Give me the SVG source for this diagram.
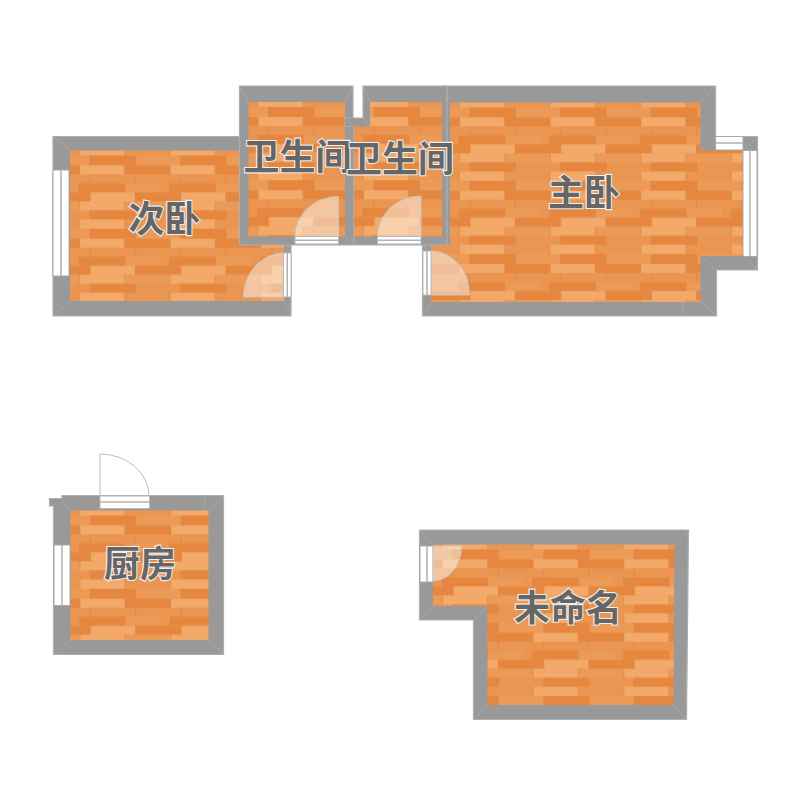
<svg xmlns="http://www.w3.org/2000/svg" width="800" height="800" viewBox="0 0 800 800">
<style>
.wall{fill:#999;stroke:#aeaeae;stroke-width:1.2}
.seam{stroke:#aeaeae;stroke-width:.7;fill:none}
.win{fill:#fff;stroke:#a8a8a8;stroke-width:1}
.bar{stroke:#b4b4b4;stroke-width:1.6;fill:none}
.swing{fill:#fff;fill-opacity:.45;stroke:#c8c8c8;stroke-width:1}
.open{fill:#fff;stroke:#b8b8b8;stroke-width:1}
.L{fill:#f2a969}.M{fill:#ec9a58}.D{fill:#e5873f}.B{fill:#eb9552}
text{font-family:"Noto Sans CJK SC","Noto Sans",sans-serif;font-size:36px;font-weight:700;fill:#666;stroke:#f0f0f0;stroke-width:2.2;paint-order:stroke;text-anchor:middle}
</style>
<defs>
<pattern id="f" patternUnits="userSpaceOnUse" width="90.67" height="73.3">
<rect width="90.67" height="73.3" class="B"/>
<rect x="9.33" y="0" width="45.33" height="5" class="L"/>
<rect x="0" y="5" width="90.67" height="10" class="M"/><rect x="20" y="5" width="45.33" height="10" class="D"/>
<rect x="9.33" y="15" width="45.33" height="9" class="L"/><rect x="54.67" y="15" width="36" height="9" class="D"/><rect x="0" y="15" width="9.33" height="9" class="D"/>
<rect x="20" y="24" width="45.33" height="9" class="B"/>
<rect x="9.33" y="33" width="45.33" height="9" class="D"/><rect x="54.67" y="33" width="36" height="9" class="M"/>
<rect x="20" y="42" width="45.33" height="9" class="L"/><rect x="65.33" y="42" width="25.34" height="9" class="D"/><rect x="0" y="42" width="20" height="9" class="D"/>
<rect x="9.33" y="51" width="45.33" height="9" class="L"/><rect x="54.67" y="51" width="36" height="9" class="M"/><rect x="0" y="51" width="9.33" height="9" class="M"/>
<rect x="20" y="60" width="45.33" height="9" class="D"/>
<rect x="9.33" y="69" width="45.33" height="4.3" class="L"/>
<path d="M9.33 0V5M54.67 0V5M20 5V15M65.33 5V15M9.33 15V24M54.67 15V24M20 24V33M65.33 24V33M9.33 33V42M54.67 33V42M20 42V51M65.33 42V51M9.33 51V60M54.67 51V60M20 60V69M65.33 60V69M9.33 69V73.3M54.67 69V73.3" stroke="#d87a35" stroke-width=".5" fill="none"/>
</pattern>
<pattern id="f1" href="#f" x="70" y="150.5"/>
<pattern id="f2" href="#f" x="248.5" y="102"/>
<pattern id="f3" href="#f" x="354" y="102"/>
<pattern id="f4" href="#f" x="450" y="102.5"/>
<pattern id="f5" href="#f" x="70.5" y="510.5"/>
<pattern id="f6" href="#f" x="433" y="544.5"/>
</defs>

<g id="room-master">
<path class="wall" d="M442 86H715.500V136.500H757.500V270H716.500V316H422.500V245H442Z"/>
<path fill="url(#f4)" d="M450 102.500H700.500V150.500H743V256H700.500V302H431V245H450Z"/>
<path class="seam" d="M715.500 86L700.500 102.500M715.500 136.500L700.500 150.500M757.500 136.500L743 150.500M757.500 270L743 256M700.500 256L716.500 270M716.500 316L700.500 302M422.500 316L431 302M682.500 302V316M447 86V102M422.500 245L431 253"/>
<rect class="win" x="715.500" y="136.500" width="27.500" height="13.500"/><path class="bar" d="M715.500 143H743"/>
<rect class="win" x="743" y="150.500" width="14" height="106"/><path class="bar" d="M750 150.500V256.500"/>
<path class="swing" d="M431 251A38.500 44 0 0 1 469.500 295H431Z"/>
<rect class="open" x="423" y="251" width="8" height="44"/><path class="bar" d="M427 251V295"/>
<text x="584" y="206">主卧</text>
</g>

<g id="room-cibedroom">
<path class="wall" d="M53 136.500H239.500V245H291V316H53Z"/>
<path fill="url(#f1)" d="M70 150.500H239.500V245H284V301H70Z"/>
<path class="seam" d="M53 136.500L70 150.500M53 316L70 301M291 316L284 301M291 245L284 253"/>
<rect class="win" x="53" y="170" width="16" height="106"/><path class="bar" d="M61 170V276"/>
<path class="swing" d="M284 253A40.500 44 0 0 0 243.500 297H284Z"/>
<rect class="open" x="283.500" y="253" width="7.500" height="44"/><path class="bar" d="M287.200 253V297"/>
<text x="164.500" y="231.500">次卧</text>
</g>

<g id="room-bath-1">
<path class="wall" d="M239.500 86H353V118H354V245H239.500Z"/>
<rect fill="url(#f2)" x="248.500" y="102" width="96.500" height="134.500"/>
<path class="seam" d="M239.500 86L248.500 102M353 86L345 102M239.500 245L248.500 236.500M354 245L345 236.500"/>
<path class="swing" d="M338.500 196.500A43.500 40 0 0 0 295 236.500H338.500Z"/>
<rect class="open" x="295" y="236.500" width="43.500" height="7.500"/><path class="bar" d="M295 240.200H338.500"/>
<text x="297.500" y="170">卫生间</text>
</g>

<g id="room-bath-2">
<path class="wall" d="M345 118H363V86H447V245H354V126.500H345Z"/>
<path fill="url(#f3)" d="M354 126.500H370V102H442V236.500H354Z"/>
<path class="seam" d="M345 118L354 126.500M363 118L370 126.500M363 86L370 102M447 86V102M354 245V236.500M442 236.500L447 245"/>
<path class="swing" d="M421 196A43.500 40.500 0 0 0 377.500 236.500H421Z"/>
<rect class="open" x="377.500" y="236.500" width="43.500" height="7.500"/><path class="bar" d="M377.500 240.200H421"/>
<text x="400" y="172">卫生间</text>
</g>

<g id="room-kitchen">
<path class="wall" d="M49.500 498.500L62 498.500V495.500H223.500V654.500H53.500V506H49.500Z"/>
<rect fill="url(#f5)" x="70.500" y="510.500" width="138" height="129.500"/>
<path class="seam" d="M223.500 495.500L208.500 510.500M223.500 654.500L208.500 640M53.500 654.500L70.500 640M62 503L70.500 510.500M204.500 495.500V510.500"/>
<rect class="win" x="54" y="545" width="16" height="60.500"/><path class="bar" d="M62 545V605.500"/>
<path d="M100 496V454A49 42 0 0 1 149 496" fill="none" stroke="#bdbdbd" stroke-width="1"/>
<rect class="open" x="100" y="496" width="49.500" height="12.500"/><path class="bar" d="M100 502H149.500"/>
<text x="140" y="577">厨房</text>
</g>

<g id="room-unnamed">
<path class="wall" d="M419.500 530H688.500L686.500 719.500H473.500V620H419.500Z"/>
<path fill="url(#f6)" d="M433 544.500H674.500L673.500 705H487.500V606H433Z"/>
<path class="seam" d="M419.500 530L433 544.500M688.500 530L674.500 544.500M686.500 719.500L673.500 705M473.500 719.500L487.500 705M473.500 620L487.500 606M419.500 620L433 606"/>
<rect class="win" x="420" y="546" width="13" height="36"/><path class="bar" d="M427 546V582"/>
<path class="swing" d="M461.500 546A28.500 35 0 0 1 433 581V546Z"/>
<text x="568" y="621">未命名</text>
</g>
</svg>
